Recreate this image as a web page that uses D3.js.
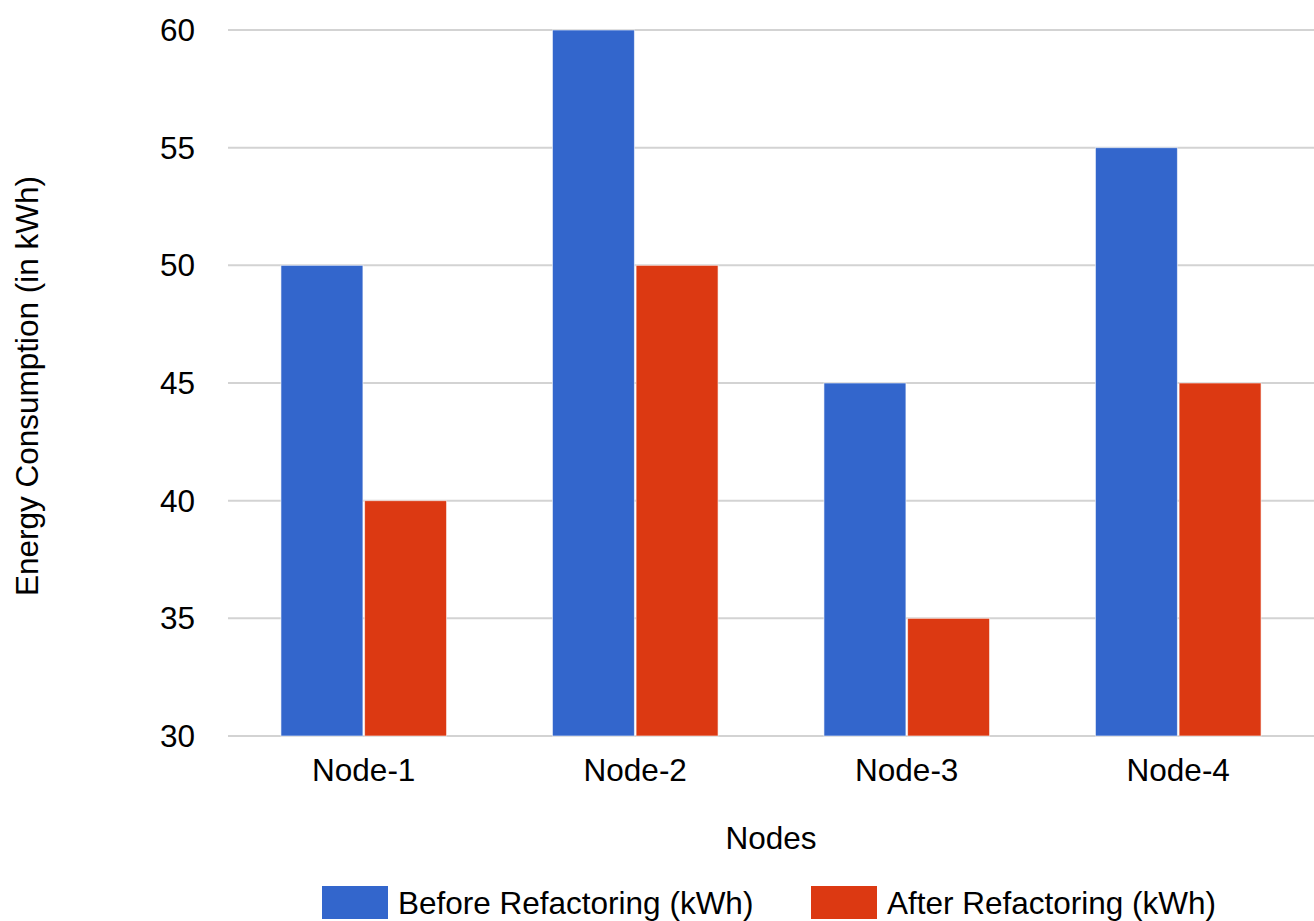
<!DOCTYPE html>
<html>
<head>
<meta charset="utf-8">
<script src="https://cdn.jsdelivr.net/npm/d3@7"></script>
<style>
  body { margin: 0; background: #fff; }
  text { font-family: "Liberation Sans", Arial, sans-serif; fill: #000; }
</style>
</head>
<body>
<svg id="chart" width="1314" height="921"></svg>
<script>
// chart data
const nodes = ["Node-1", "Node-2", "Node-3", "Node-4"];
const seriesNames = ["Before Refactoring (kWh)", "After Refactoring (kWh)"];
const beforeValues = [50, 60, 45, 55];
const afterValues = [40, 50, 35, 45];
const yTicks = [30, 35, 40, 45, 50, 55, 60];
const colors = ["#3366cc", "#dc3912"];

const fontSize = "31.5px";
const svg = d3.select("#chart");
const margin = {left: 228, right: 0, top: 30, bottom: 185};
const width = 1314 - margin.left - margin.right;
const height = 921 - margin.top - margin.bottom;

const g = svg.append("g").attr("transform", `translate(${margin.left},${margin.top})`);

const x = d3.scaleBand().domain(nodes).range([0, width]).paddingInner(0.39).paddingOuter(0.195);
const xSub = d3.scaleBand().domain([0, 1]).range([0, x.bandwidth()]).paddingInner(0.02);
const y = d3.scaleLinear().domain([30, 60]).range([height, 0]);

// gridlines
g.selectAll(".grid")
  .data(yTicks)
  .enter().append("line")
  .attr("x1", 0).attr("x2", width)
  .attr("y1", d => y(d)).attr("y2", d => y(d))
  .attr("stroke", "#d3d3d3")
  .attr("stroke-width", 2);

// y tick labels
g.selectAll(".ylab")
  .data(yTicks)
  .enter().append("text")
  .attr("x", -33)
  .attr("y", d => y(d))
  .attr("dy", "0.35em")
  .attr("text-anchor", "end")
  .style("font-size", fontSize)
  .text(d => d);

// bars
const rows = nodes.map((n, i) => ({node: n, values: [beforeValues[i], afterValues[i]]}));
const grp = g.selectAll(".grp")
  .data(rows)
  .enter().append("g")
  .attr("transform", d => `translate(${x(d.node)},0)`);

grp.selectAll("rect")
  .data(d => d.values.map((v, k) => ({v, k})))
  .enter().append("rect")
  .attr("x", d => xSub(d.k))
  .attr("width", xSub.bandwidth())
  .attr("y", d => y(d.v))
  .attr("height", d => y(30) - y(d.v))
  .attr("fill", d => colors[d.k])
  .attr("stroke", "#ffffff")
  .attr("stroke-opacity", 0.6)
  .attr("stroke-width", 1);

// x labels
g.selectAll(".xlab")
  .data(nodes)
  .enter().append("text")
  .attr("x", d => x(d) + x.bandwidth() / 2)
  .attr("y", height + 34)
  .attr("dy", "0.35em")
  .attr("text-anchor", "middle")
  .style("font-size", fontSize)
  .text(d => d);

// axis titles
svg.append("text")
  .attr("x", 771)
  .attr("y", 838)
  .attr("dy", "0.35em")
  .attr("text-anchor", "middle")
  .style("font-size", fontSize)
  .text("Nodes");

svg.append("text")
  .attr("transform", "translate(27,386) rotate(-90)")
  .attr("dy", "0.35em")
  .attr("text-anchor", "middle")
  .style("font-size", fontSize)
  .text("Energy Consumption (in kWh)");

// legend
const legendX = [322, 811];
const leg = svg.selectAll(".leg")
  .data(seriesNames)
  .enter().append("g")
  .attr("transform", (d, i) => `translate(${legendX[i]},886)`);
leg.append("rect")
  .attr("width", 66).attr("height", 33)
  .attr("fill", (d, i) => colors[i]);
leg.append("text")
  .attr("x", 76)
  .attr("y", 17)
  .attr("dy", "0.35em")
  .style("font-size", fontSize)
  .text(d => d);
</script>
</body>
</html>
